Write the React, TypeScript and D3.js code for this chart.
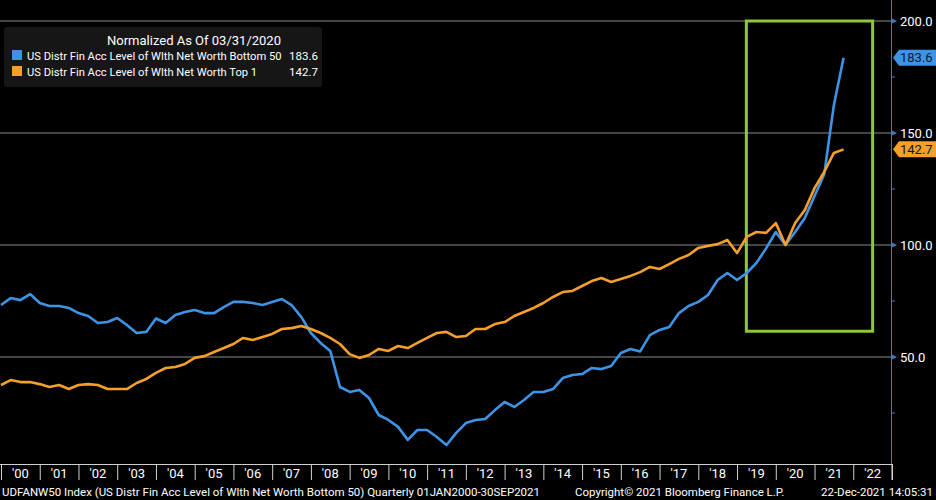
import * as d3 from "d3";

// quarterly values, Dec-1999 .. Sep-2021, normalized to 100 at 03/31/2020
const bottom50 = [
  73.2, 76.3, 75.4, 78.1, 74.1, 72.8, 72.8, 71.9, 69.6, 68.3,
  65.2, 65.6, 67.4, 64.3, 60.7, 61.2, 67.2, 65.2, 68.8, 70.1,
  71.0, 69.6, 69.6, 72.3, 74.6, 74.6, 74.1, 73.2, 74.6, 75.9,
  73.2, 67.9, 60.7, 56.3, 52.7, 36.6, 34.4, 35.3, 31.7, 24.1,
  21.9, 18.8, 13.0, 17.4, 17.4, 14.3, 10.7, 16.1, 20.5, 21.9,
  22.3, 26.3, 29.9, 27.7, 30.8, 34.4, 34.4, 35.7, 40.6, 42.0,
  42.4, 45.1, 44.6, 46.0, 51.8, 53.6, 52.5, 59.8, 62.1, 63.4,
  69.6, 72.8, 74.6, 77.7, 84.4, 87.5, 84.4, 87.5, 92.0, 98.5,
  105.8, 100.0, 105.8, 112.1, 121.9, 131.5, 162.5, 183.6,
];
const top1 = [
  37.5, 39.7, 38.8, 38.8, 37.9, 36.6, 37.5, 35.7, 37.5, 37.9,
  37.5, 35.7, 35.7, 35.7, 38.4, 40.2, 42.9, 45.1, 45.5, 46.9,
  49.6, 50.4, 52.2, 54.0, 55.8, 58.5, 57.6, 58.9, 60.3, 62.5,
  62.9, 63.8, 62.5, 60.7, 58.5, 55.8, 51.3, 49.6, 50.9, 53.6,
  52.7, 54.9, 54.0, 56.3, 58.5, 60.7, 61.2, 58.9, 59.4, 62.5,
  62.5, 64.7, 65.6, 68.3, 70.1, 71.9, 74.1, 76.8, 79.0, 79.5,
  81.7, 83.9, 85.3, 83.5, 84.8, 86.2, 87.9, 90.2, 89.3, 91.5,
  93.8, 95.5, 98.7, 99.6, 100.4, 102.2, 96.4, 103.6, 105.8, 105.4,
  109.8, 100.0, 109.8, 115.6, 125.4, 132.6, 141.1, 142.7,
];
const firstQuarter = 2000.0; // Dec-1999 quarter end
const yearLabels = [
  "'00", "'01", "'02", "'03", "'04", "'05", "'06", "'07", "'08", "'09", "'10", "'11",
  "'12", "'13", "'14", "'15", "'16", "'17", "'18", "'19", "'20", "'21", "'22",
];
const majorTicks = [50, 100, 150, 200];
const minorTicks = [25, 75, 125, 175];
const highlight = { from: 2019.24, to: 2022.5, top: 200, bottom: 61.5 };

const legendTitle = "Normalized As Of 03/31/2020";
const seriesNames = [
  "US Distr Fin Acc Level of Wlth Net Worth Bottom 50",
  "US Distr Fin Acc Level of Wlth Net Worth Top 1",
];
const footerLeft =
  "UDFANW50 Index (US Distr Fin Acc Level of Wlth Net Worth Bottom 50)  Quarterly 01JAN2000-30SEP2021";
const footerMid = "Copyright\u00a9 2021 Bloomberg Finance L.P.";
const footerRight = "22-Dec-2021 14:05:31";

const W = 936;
const H = 500;
const plotRight = 891;
const plotBottom = 464;
const BLUE = "#3d94e6";
const ORANGE = "#f5a02a";
const FONT = "Roboto, 'DejaVu Sans', sans-serif";

export default function App() {
  const x = d3.scaleLinear().domain([2000, 2023]).range([1, 892]);
  const y = d3.scaleLinear().domain([50, 200]).range([357, 21]);

  const t = (i: number) => firstQuarter + i * 0.25;
  const line = d3
    .line<number>()
    .x((_, i) => x(t(i)))
    .y((d) => y(d));

  const series = [
    { name: seriesNames[0], values: bottom50, color: BLUE },
    { name: seriesNames[1], values: top1, color: ORANGE },
  ];

  const years = d3.range(2000, 2000 + yearLabels.length);

  return (
    <svg
      width={W}
      height={H}
      style={{ position: "fixed", left: 0, top: 0, background: "#000" }}
      fontFamily={FONT}
    >
      <rect x={0} y={0} width={W} height={H} fill="#000" />
      <defs>
        <clipPath id="plot">
          <rect x={0} y={0} width={plotRight} height={plotBottom} />
        </clipPath>
      </defs>

      {/* grid */}
      {majorTicks.map((v) => (
        <line key={v} x1={0} x2={plotRight} y1={y(v)} y2={y(v)} stroke="#8c8c8c" strokeWidth={1} />
      ))}

      {/* highlight box */}
      <rect
        x={x(highlight.from)}
        y={y(highlight.top)}
        width={x(highlight.to) - x(highlight.from)}
        height={y(highlight.bottom) - y(highlight.top)}
        fill="none"
        stroke="#8cc83c"
        strokeWidth={3}
      />

      {/* lines */}
      <g clipPath="url(#plot)">
        {series.map((s) => (
          <path
            key={s.name}
            d={line(s.values) || ""}
            fill="none"
            stroke={s.color}
            strokeWidth={2.6}
            strokeLinejoin="round"
          />
        ))}
      </g>

      {/* right axis */}
      <line x1={plotRight + 0.5} x2={plotRight + 0.5} y1={0} y2={480} stroke="#3a7cc8" strokeWidth={1} />
      {minorTicks.map((v) => (
        <line key={v} x1={plotRight} x2={plotRight + 4} y1={y(v)} y2={y(v)} stroke="#3a7cc8" />
      ))}
      {majorTicks.map((v) => (
        <g key={v}>
          <path
            d={`M${plotRight},${y(v) - 3}L${plotRight + 6},${y(v)}L${plotRight},${y(v) + 3}Z`}
            fill="#3a7cc8"
          />
          <text x={900} y={y(v)} dy="0.36em" fill="#fff" fontSize={13}>
            {v.toFixed(1)}
          </text>
        </g>
      ))}

      {/* last value flags */}
      {series.map((s) => {
        const last = s.values[s.values.length - 1];
        const yy = y(last);
        return (
          <g key={s.name}>
            <path
              d={`M${plotRight + 2},${yy}L${plotRight + 8},${yy - 8}L${W},${yy - 8}L${W},${yy + 8}L${plotRight + 8},${yy + 8}Z`}
              fill={s.color}
            />
            <text x={900} y={yy} dy="0.36em" fill="#0b1a2c" fontSize={13}>
              {last.toFixed(1)}
            </text>
          </g>
        );
      })}

      {/* bottom axis */}
      <line x1={0} x2={892} y1={plotBottom + 0.5} y2={plotBottom + 0.5} stroke="#d0d0d0" />
      {years.map((yr, i) => (
        <g key={yr}>
          <line x1={x(yr) + 0.5} x2={x(yr) + 0.5} y1={plotBottom} y2={480} stroke="#d0d0d0" />
          <text x={x(yr + 0.5)} y={473} dy="0.36em" textAnchor="middle" fill="#fff" fontSize={13}>
            {yearLabels[i]}
          </text>
        </g>
      ))}
      <line x1={892.5} x2={892.5} y1={plotBottom} y2={480} stroke="#d0d0d0" />

      {/* legend */}
      <rect x={4} y={27} width={318} height={60} rx={3} fill="#161616" />
      <text x={194} y={40} dy="0.36em" textAnchor="middle" fill="#fff" fontSize={13}>
        {legendTitle}
      </text>
      {series.map((s, i) => (
        <g key={s.name}>
          <rect x={12} y={50 + i * 16} width={10} height={10} fill={s.color} />
          <text x={27} y={56 + i * 16} dy="0.36em" fill="#fff" fontSize={11.2}>
            {s.name}
          </text>
          <text x={318} y={56 + i * 16} dy="0.36em" textAnchor="end" fill="#fff" fontSize={11.5}>
            {s.values[s.values.length - 1].toFixed(1)}
          </text>
        </g>
      ))}

      {/* footer */}
      <text x={2} y={492} dy="0.36em" fill="#fff" fontSize={11.5}>
        {footerLeft}
      </text>
      <text x={575} y={492} dy="0.36em" fill="#fff" fontSize={11.5}>
        {footerMid}
      </text>
      <text x={933} y={492} dy="0.36em" textAnchor="end" fill="#fff" fontSize={11.5}>
        {footerRight}
      </text>
    </svg>
  );
}
